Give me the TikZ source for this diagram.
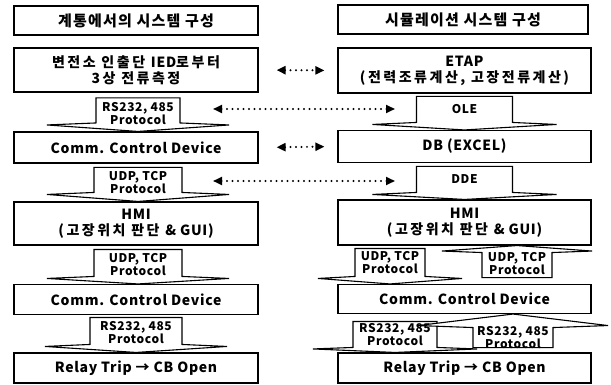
\documentclass[tikz,border=0pt]{standalone}
\usepackage{fontspec}
\setmainfont{Noto Sans CJK KR}
\usetikzlibrary{arrows.meta,calc}
\newcommand\blkarr[8]{% #1 anchor, #2 dx, #3 rect dy, #4 wing dy, #5 half rect w, #6 half wing w, #7 wing slope, #8 name
  \coordinate (#8) at ($(#1)+(#2,0)$);
  \draw[blk] ($(#8)+(-#5,#3)$) -- ($(#8)+(-#5,#4)$) -- ($(#8)+(-#6,#4+#7)$) -- (#8)
    -- ($(#8)+(#6,#4+#7)$) -- ($(#8)+(#5,#4)$) -- ($(#8)+(#5,#3)$) -- cycle;}
\newcommand\ko[1]{{\addfontfeatures{LetterSpace=18}#1}}
\newcommand\en[1]{{\addfontfeatures{LetterSpace=5}#1}}
\begin{document}
\begin{tikzpicture}[x=1pt,y=-1pt,
  box/.style={draw, line width=1.1pt, inner sep=0pt, align=center, font=\bfseries\fontsize{14}{16}\selectfont},
  ttl/.style={box, font=\bfseries\fontsize{15}{17}\selectfont\addfontfeatures{LetterSpace=8}},
  blk/.style={draw, line width=1.1pt, fill=white, line join=miter},
  albl/.style={inner sep=0pt, align=center, font=\bfseries\fontsize{12}{13}\selectfont\addfontfeatures{LetterSpace=5}},
  dotarr/.style={line width=2.2pt, dash pattern=on 0pt off 5.5pt, line cap=round,
     {Triangle[length=9pt,width=8pt,line cap=butt]}-{Triangle[length=9pt,width=8pt,line cap=butt]}}]
\useasboundingbox (0,0) rectangle (611,385);
% left column
\node[ttl, minimum width=244, minimum height=29] (L1) at (136,20.5) {계통에서의 시스템 구성};
\node[box, minimum width=244, minimum height=44] (L2) at (136,70) {\ko{변전소 인출단 }\en{IED}\ko{로부터}\\\ko{3상 전류측정}};
\node[box, minimum width=244, minimum height=31] (L3) at (136,147.5) {\en{Comm. Control Device}};
\node[box, minimum width=244, minimum height=43] (L4) at (136,223.5) {\en{HMI}\\\ko{(고장위치 판단 }\en{\& GUI)}};
\node[box, minimum width=244, minimum height=30] (L5) at (136,299.5) {\en{Comm. Control Device}};
\node[box, minimum width=244, minimum height=30] (L6) at (136,368) {\en{Relay Trip → CB Open}};
% right column
\node[ttl, minimum width=250, minimum height=29] (R1) at (463,19.5) {시뮬레이션 시스템 구성};
\node[box, minimum width=253, minimum height=45] (R2) at (464.5,70.5) {\en{ETAP}\\\ko{(전력조류계산, 고장전류계산)}};
\node[box, minimum width=253, minimum height=32] (R3) at (464.5,146.5) {\en{DB (EXCEL)}};
\node[box, minimum width=253, minimum height=45] (R4) at (464.5,222.5) {\en{HMI}\\\ko{(고장위치 판단 }\en{\& GUI)}};
\node[box, minimum width=253, minimum height=29] (R5) at (464.5,299) {\en{Comm. Control Device}};
\node[box, minimum width=253, minimum height=30] (R6) at (464.5,368) {\en{Relay Trip → CB Open}};
% block arrows left
\blkarr{L3.north}{2}{-33.5}{-8.5}{42}{91}{2}{a1}
\node[albl] (a1t) at ($(a1)+(0,-18)$) {RS232, 485\\Protocol};
\blkarr{L4.north}{2}{-34}{-9}{44}{91}{2}{a2}
\node[albl] (a2t) at ($(a2)+(0,-19)$) {UDP, TCP\\Protocol};
\blkarr{L5.north}{2}{-34.5}{-7.5}{44}{91}{2}{a3}
\node[albl] (a3t) at ($(a3)+(0,-19.5)$) {UDP, TCP\\Protocol};
\blkarr{L6.north}{0}{-35}{-8}{46}{91}{2}{a4}
\node[albl] (a4t) at ($(a4)+(0,-20)$) {RS232, 485\\Protocol};
% block arrows right
\blkarr{R3.north}{0}{-33.5}{-7.5}{48}{92}{2}{b1}
\node[albl] (b1t) at ($(b1)+(0,-20.5)$) {OLE};
\blkarr{R4.north}{0}{-33}{-7}{48}{92}{2}{b2}
\node[albl] (b2t) at ($(b2)+(0,-20)$) {DDE};
\blkarr{R5.north}{-74.5}{-35.5}{-7.5}{35}{72}{2}{b3}
\node[albl] (b3t) at ($(b3)+(0,-21.5)$) {UDP, TCP\\Protocol};
\blkarr{R4.south}{52.5}{32}{7}{35}{75}{-1.5}{b4}
\node[albl] (b4t) at ($(b4)+(0,18)$) {UDP, TCP\\Protocol};
\blkarr{R6.north}{-69.5}{-31}{-5}{42}{82}{1.5}{b5}
\node[albl] (b5t) at ($(b5)+(0,-17.5)$) {RS232, 485\\Protocol};
\blkarr{R5.south}{48.5}{33.5}{13.5}{40}{95}{-2}{b6}
\node[albl] (b6t) at ($(b6)+(0,23.5)$) {RS232, 485\\Protocol};
% dotted double arrows
\draw[dotarr, shorten <=18pt, shorten >=13pt] (L2.east) -- (R2.west);
\draw[dotarr, shorten <=18pt, shorten >=13pt] (L3.east) -- (R3.west);
\coordinate (d1l) at (213,109); \coordinate (d1r) at (395,109);
\coordinate (d2l) at (213,181); \coordinate (d2r) at (395,181);
\draw[dotarr] (d1l) -- (d1r);
\draw[dotarr] (d2l) -- (d2r);
\end{tikzpicture}
\end{document}
